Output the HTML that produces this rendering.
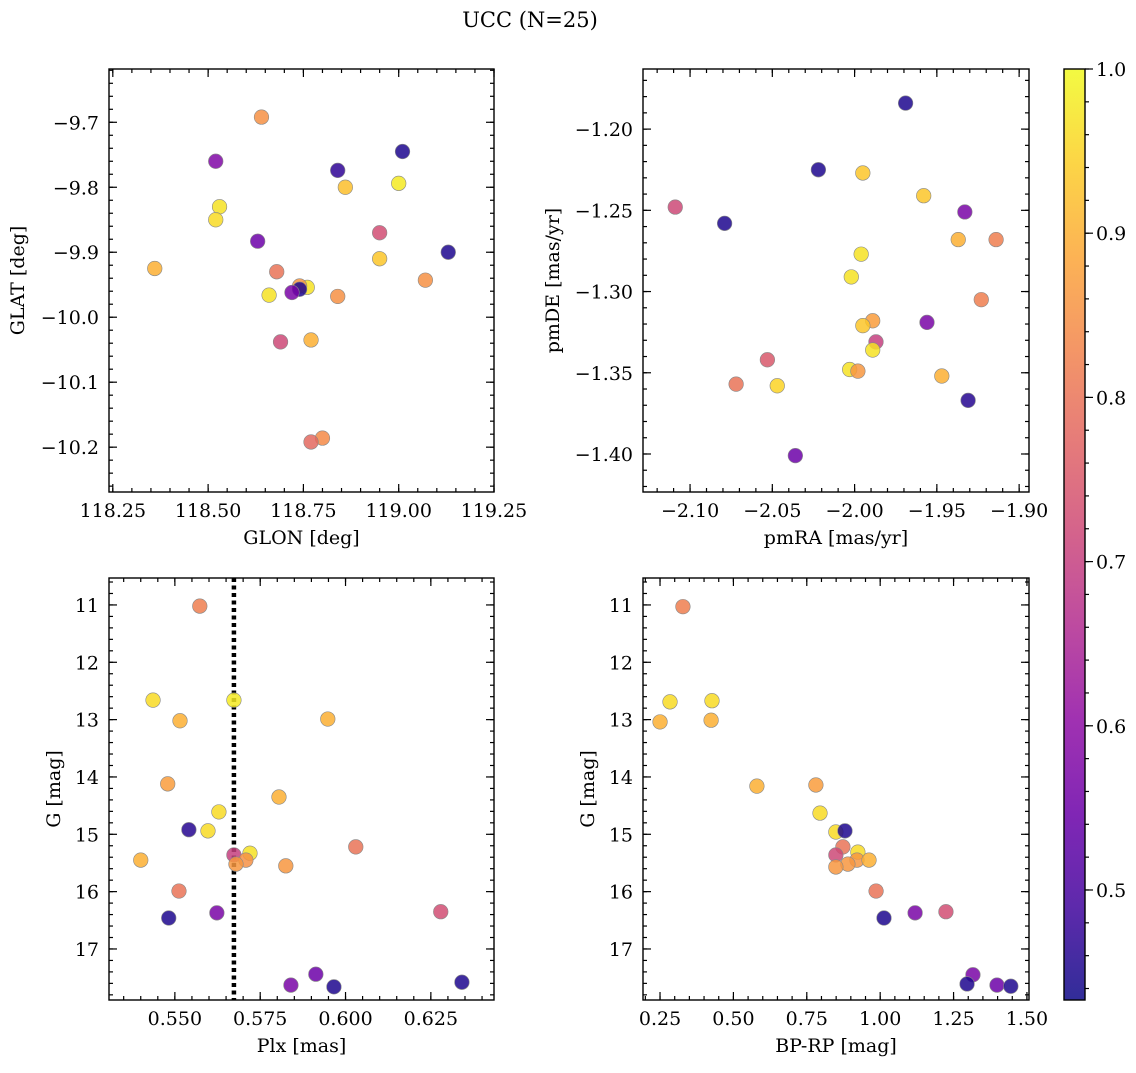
<!DOCTYPE html>
<html><head><meta charset="utf-8">
<style>
html,body{margin:0;padding:0;background:#fff;}
svg text{font-family:"DejaVu Serif","Liberation Serif",serif;fill:#000;}
</style></head>
<body>
<svg id="fig" width="1136" height="1068" viewBox="0 0 1136 1068" xmlns="http://www.w3.org/2000/svg">
<text x="530" y="27" font-size="21" text-anchor="middle">UCC (N=25)</text>
</svg>
<script>
// ---- data ----
const glon=[118.64,119.01,118.84,118.52,118.86,119.00,118.53,118.52,118.95,118.63,118.36,118.95,119.13,118.68,119.07,118.76,118.74,118.74,118.72,118.66,118.84,118.69,118.77,118.80,118.77];
const glat=[-9.692,-9.745,-9.774,-9.76,-9.80,-9.794,-9.83,-9.85,-9.87,-9.883,-9.925,-9.91,-9.90,-9.93,-9.943,-9.954,-9.952,-9.957,-9.962,-9.966,-9.968,-10.038,-10.035,-10.186,-10.192];
const probA=[0.85,0.45,0.47,0.58,0.92,0.98,0.97,0.96,0.73,0.55,0.90,0.93,0.45,0.80,0.85,0.97,0.86,0.45,0.57,0.97,0.85,0.72,0.90,0.84,0.78];
const pmra=[-1.969,-2.022,-1.995,-2.109,-2.079,-1.958,-1.933,-1.937,-1.914,-1.996,-2.002,-1.923,-1.956,-1.989,-1.995,-1.987,-1.989,-2.053,-2.072,-2.047,-2.003,-1.998,-1.947,-1.931,-2.036];
const pmde=[-1.184,-1.225,-1.227,-1.248,-1.258,-1.241,-1.251,-1.268,-1.268,-1.277,-1.291,-1.305,-1.319,-1.318,-1.321,-1.331,-1.336,-1.342,-1.357,-1.358,-1.348,-1.349,-1.352,-1.367,-1.401];
const probB=[0.45,0.45,0.93,0.72,0.45,0.93,0.57,0.90,0.82,0.97,0.97,0.82,0.57,0.87,0.93,0.70,0.97,0.75,0.80,0.95,0.97,0.86,0.90,0.46,0.55];
const plx=[0.5573,0.5436,0.5673,0.5515,0.5948,0.5479,0.5805,0.5629,0.5541,0.5597,0.5400,0.5720,0.5673,0.5708,0.5679,0.5825,0.6030,0.5512,0.5482,0.5623,0.6279,0.5913,0.5840,0.5966,0.6341];
const gmagC=[11.02,12.66,12.66,13.02,12.99,14.12,14.35,14.61,14.92,14.94,15.45,15.33,15.36,15.45,15.52,15.55,15.22,15.99,16.46,16.37,16.35,17.44,17.63,17.66,17.58];
const probC=[0.82,0.96,0.98,0.90,0.90,0.87,0.90,0.96,0.46,0.96,0.90,0.97,0.70,0.85,0.86,0.86,0.80,0.80,0.45,0.57,0.73,0.55,0.57,0.45,0.45];
const bprp=[0.328,0.284,0.427,0.25,0.424,0.580,0.781,0.795,0.849,0.880,0.873,0.924,0.849,0.921,0.962,0.890,0.849,0.986,1.013,1.119,1.224,1.316,1.296,1.398,1.445];
const gmagD=[11.03,12.69,12.67,13.04,13.01,14.16,14.14,14.63,14.96,14.94,15.22,15.31,15.36,15.45,15.45,15.52,15.57,15.99,16.46,16.37,16.35,17.45,17.61,17.63,17.65];
const probD=[0.82,0.96,0.96,0.90,0.90,0.90,0.87,0.96,0.96,0.45,0.80,0.96,0.72,0.86,0.90,0.86,0.86,0.80,0.45,0.57,0.73,0.57,0.45,0.55,0.45];
const plxLine=[0.5673];
const cbTicks=[0.5,0.6,0.7,0.8,0.9,1.0];
const cmin=0.433, cmax=1.0;

const NS="http://www.w3.org/2000/svg";
const svg=document.getElementById('fig');
function mk(tag,attrs,parent){const e=document.createElementNS(NS,tag);for(const k in attrs)e.setAttribute(k,attrs[k]);(parent||svg).appendChild(e);return e;}
const stops=[[13,8,135],[65,4,157],[106,0,168],[143,13,164],[177,42,144],[204,71,120],[225,100,98],[242,132,75],[252,166,54],[252,206,37],[240,249,33]];
function plasma(t){t=Math.max(0,Math.min(1,t))*10;const i=Math.min(9,Math.floor(t)),f=t-i;const a=stops[i],b=stops[i+1];return `rgb(${a.map((v,k)=>Math.round(v+(b[k]-v)*f)).join(',')})`;}
function cval(p){return plasma((p-cmin)/(cmax-cmin));}
function fmt(v,d){let s=v.toFixed(d);return s.replace('-','\u2212');}
const FS=19;

function panel(o){
  const g=mk('g',{});
  
  
  const sx=v=>o.x0+(v-o.xr[0])/(o.xr[1]-o.xr[0])*(o.x1-o.x0);
  const sy=v=>o.inv? o.y0+(v-o.yr[0])/(o.yr[1]-o.yr[0])*(o.y1-o.y0) : o.y1-(v-o.yr[0])/(o.yr[1]-o.yr[0])*(o.y1-o.y0);
  function ticksX(step,len,labels,dec){
    const s=Math.ceil(o.xr[0]/step-1e-6);
    for(let k=s;k*step<=o.xr[1]+1e-9;k++){const v=k*step,x=sx(v);
      mk('line',{x1:x,x2:x,y1:o.y1,y2:o.y1-len,stroke:'#000','stroke-width':1.2},g);
      mk('line',{x1:x,x2:x,y1:o.y0,y2:o.y0+len,stroke:'#000','stroke-width':1.2},g);
      if(labels){const t=mk('text',{x:x,y:o.y1+25,'font-size':FS,'text-anchor':'middle'},g);t.textContent=fmt(v,dec);
        }
    }}
  function ticksY(step,len,labels,dec){
    const lo=Math.min(...o.yr),hi=Math.max(...o.yr);
    const s=Math.ceil(lo/step-1e-6);
    for(let k=s;k*step<=hi+1e-9;k++){const v=k*step,y=sy(v);
      mk('line',{x1:o.x0,x2:o.x0+len,y1:y,y2:y,stroke:'#000','stroke-width':1.2},g);
      mk('line',{x1:o.x1,x2:o.x1-len,y1:y,y2:y,stroke:'#000','stroke-width':1.2},g);
      if(labels){const t=mk('text',{x:o.x0-10,y:y+7,'font-size':FS,'text-anchor':'end'},g);t.textContent=fmt(v,dec);
        }
    }}
  ticksX(o.xminor,4,false);ticksX(o.xmajor,8,true,o.xdec);
  ticksY(o.yminor,4,false);ticksY(o.ymajor,8,true,o.ydec);
  if(o.vline){o.vline.forEach(v=>{const l=mk('line',{x1:sx(v),x2:sx(v),y1:o.y0,y2:o.y1,stroke:'#000','stroke-width':4.5,'stroke-dasharray':'4,3.5'},g);
    });}
  o.xs.forEach((xv,i)=>{const c=mk('circle',{cx:sx(xv),cy:sy(o.ys[i]),r:7.3,fill:cval(o.c[i]),'fill-opacity':0.85,stroke:'#888','stroke-width':0.6},g);
    });
  const fr=mk('rect',{x:o.x0,y:o.y0,width:o.x1-o.x0,height:o.y1-o.y0,fill:'none',stroke:'#000','stroke-width':1.4},g);
  
  const xl=mk('text',{x:(o.x0+o.x1)/2,y:o.y1+52,'font-size':FS,'text-anchor':'middle'},g);xl.textContent=o.xlabel;
  
  const yx=o.x0-o.ylo,yy=(o.y0+o.y1)/2;
  const yl=mk('text',{x:yx,y:yy,'font-size':FS,'text-anchor':'middle',transform:`rotate(-90 ${yx} ${yy})`},g);yl.textContent=o.ylabel;
  
}
panel({name:'glon-glat-panel',x0:109,x1:494,y0:69,y1:492,xr:[118.24,119.25],yr:[-10.269,-9.618],xmajor:0.25,xminor:0.05,ymajor:0.1,yminor:0.02,xdec:2,ydec:1,xs:glon,ys:glat,c:probA,xlabel:'GLON [deg]',ylabel:'GLAT [deg]',ylo:85});
panel({name:'pm-panel',x0:643,x1:1029,y0:69,y1:492,xr:[-2.1286,-1.894],yr:[-1.4234,-1.163],xmajor:0.05,xminor:0.01,ymajor:0.05,yminor:0.01,xdec:2,ydec:2,xs:pmra,ys:pmde,c:probB,xlabel:'pmRA [mas/yr]',ylabel:'pmDE [mas/yr]',ylo:84});
panel({name:'plx-g-panel',x0:109,x1:494,y0:578,y1:1000,xr:[0.5307,0.6435],yr:[10.53,17.89],inv:true,xmajor:0.025,xminor:0.005,ymajor:1,yminor:0.2,xdec:3,ydec:0,xs:plx,ys:gmagC,c:probC,vline:plxLine,xlabel:'Plx [mas]',ylabel:'G [mag]',ylo:49});
panel({name:'cmd-panel',x0:643,x1:1029,y0:578,y1:1000,xr:[0.192,1.507],yr:[10.53,17.89],inv:true,xmajor:0.25,xminor:0.05,ymajor:1,yminor:0.2,xdec:2,ydec:0,xs:bprp,ys:gmagD,c:probD,xlabel:'BP-RP [mag]',ylabel:'G [mag]',ylo:49});

const cb=mk('g',{});


const defs=mk('defs',{},svg);
const lg=mk('linearGradient',{id:'cbg',x1:0,y1:1,x2:0,y2:0},defs);
for(let i=0;i<=20;i++){const t=i/20;mk('stop',{offset:t,'stop-color':plasma(t),'stop-opacity':0.85},lg);}
const cy0=69,cy1=1000,cx0=1064,cx1=1085;
mk('rect',{x:cx0,y:cy0,width:cx1-cx0,height:cy1-cy0,fill:'url(#cbg)',stroke:'#000','stroke-width':1.4},cb);
const cys=v=>cy1-(v-cmin)/(cmax-cmin)*(cy1-cy0);
for(let v=0.44;v<=1.0001;v+=0.02){const y=cys(v);mk('line',{x1:cx1,x2:cx1+4,y1:y,y2:y,stroke:'#000','stroke-width':1.2},cb);}
cbTicks.forEach(v=>{const y=cys(v);mk('line',{x1:cx1,x2:cx1+8,y1:y,y2:y,stroke:'#000','stroke-width':1.2},cb);
  const t=mk('text',{x:1096,y:y+7,'font-size':FS},cb);t.textContent=v.toFixed(1);
  });
</script>
</body></html>
